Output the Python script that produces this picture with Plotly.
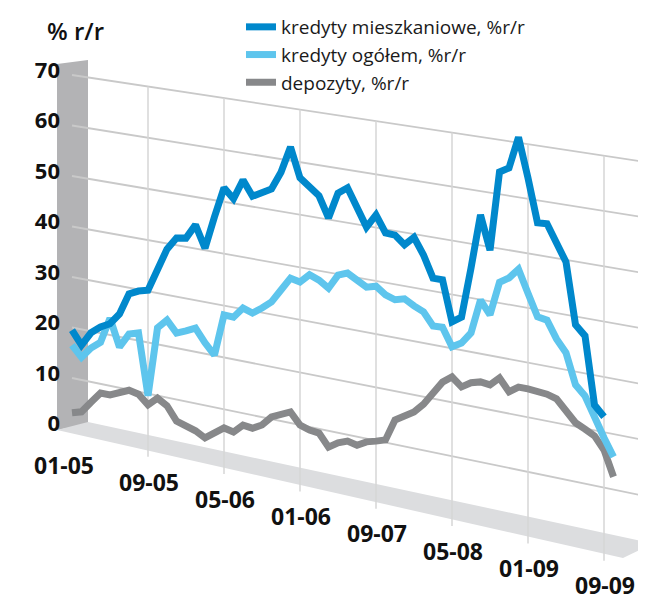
import plotly.graph_objects as go

# dane miesieczne od 01-05, % r/r
mieszkaniowe = [19.5, 16.9, 19.7, 21.2, 22.2, 24.5, 28.8, 29.7, 30.2, 34.3,
                38.9, 41.4, 41.7, 44.6, 40.4, 46.8, 52.7, 50.9, 54.8, 52.0,
                52.9, 54.0, 57.5, 62.6, 57.0, 55.8, 54.2, 50.3, 55.3, 56.6,
                53.3, 49.8, 52.4, 49.3, 49.2, 47.7, 49.4, 46.4, 42.4, 42.4,
                34.9, 36.1, 45.5, 55.6, 49.4, 64.1, 65.1, 71.0, 63.8, 55.9,
                56.0, 52.8, 49.6, 38.5, 36.8, 24.6, 22.8]
ogolem = [16.5, 14.5, 16.7, 18.2, 23.3, 18.0, 20.9, 21.5, 9.6, 23.2,
          25.1, 22.9, 23.7, 24.6, 22.1, 20.1, 28.2, 28.1, 30.2, 29.6,
          30.9, 32.4, 35.0, 37.6, 37.2, 38.9, 38.2, 37.0, 39.8, 40.5,
          39.5, 38.5, 39.0, 37.7, 37.1, 37.6, 36.6, 35.8, 33.5, 33.6,
          30.3, 31.3, 33.5, 39.9, 37.5, 43.8, 44.9, 46.8, 42.7, 38.7,
          38.4, 35.3, 33.1, 27.6, 25.9, 22.2, 19.0, 15.9]
depozyty = [3.1, 3.7, 6.0, 8.2, 8.2, 9.2, 9.9, 9.5, 7.8, 9.5,
            8.4, 5.8, 5.2, 4.7, 3.7, 5.0, 6.4, 6.0, 7.7, 7.5,
            8.5, 10.4, 11.2, 12.1, 10.0, 9.4, 9.2, 6.9, 8.1, 8.8,
            8.4, 9.4, 9.9, 10.5, 14.6, 15.7, 16.8, 18.6, 20.9, 23.4,
            24.7, 23.2, 24.3, 24.8, 24.6, 26.2, 24.0, 25.2, 25.2, 25.1,
            24.9, 24.4, 22.5, 20.7, 19.9, 19.0, 16.8, 12.3]

tick_months = [0, 8, 16, 24, 32, 40, 48, 56]
tick_labels = ["01-05", "09-05", "05-06", "01-06", "09-07", "05-08", "01-09", "09-09"]
y_ticks = [0, 10, 20, 30, 40, 50, 60, 70]

# strona ma margines 8 px, wiec wykres jest o tyle mniejszy
OFF = 8
W, H = 646 - OFF, 600 - OFF
LEFT = 48

# perspektywa tylnej sciany (piksele ekranu)
X0, DX = 72, 9.5          # miesiac 0 i szerokosc miesiaca
Y0, DY0 = 428.5, 2.0425   # linia zera na poczatku i jej opadanie na miesiac
S0, DS = 5.05, 0.0086     # piksele na jednostke i ich przyrost na miesiac


def wall_y(t, v):
    # wartosc v w miesiacu t -> skala lewej sciany (os y)
    ys = Y0 + DY0 * t - v * (S0 + DS * t)
    return (Y0 - ys) / S0


def px_t(x):
    return (x - X0) / DX


def px_y(y):
    return (Y0 - y) / S0


def paper_x(x):
    return (x - OFF - LEFT) / (W - LEFT)


def paper_y(y):
    return 1 - (y - OFF) / H


def path(points):
    return "M " + " L ".join(f"{px_t(x):.4f},{px_y(y):.4f}" for x, y in points) + " Z"


t_end = px_t(646)

fig = go.Figure()

# siatka pozioma
for v in y_ticks[1:]:
    fig.add_trace(go.Scatter(
        x=[0, t_end], y=[wall_y(0, v), wall_y(t_end, v)],
        mode='lines', line=dict(color='#C9C9C9', width=1.8),
        showlegend=False, hoverinfo='skip'))

# siatka pionowa
for t in tick_months[1:]:
    xp = X0 + DX * t
    fig.add_trace(go.Scatter(
        x=[t, t], y=[wall_y(t, 70), px_y(436 + 0.228 * (xp - 57))],
        mode='lines', line=dict(color='#D6D6D6', width=1.5),
        showlegend=False, hoverinfo='skip'))

series = [
    ("depozyty, %r/r", depozyty, '#87888A', 3),
    ("kredyty ogółem, %r/r", ogolem, '#5EC5ED', 2),
    ("kredyty mieszkaniowe, %r/r", mieszkaniowe, '#0088CC', 1),
]
for name, vals, color, rank in series:
    t = list(range(len(vals)))
    fig.add_trace(go.Scatter(
        x=t, y=[wall_y(ti, v) for ti, v in zip(t, vals)],
        mode='lines', name=name, legendrank=rank,
        line=dict(color=color, width=7),
        hoverinfo='skip'))

shapes = [
    dict(type='path', path=path([(57, 64), (88, 60), (88, 424), (57, 430)]),
         xref='x', yref='y', fillcolor='#B3B3B5', line=dict(width=0), layer='below'),
    dict(type='path', path=path([(57, 430), (88, 422), (646, 542), (646, 547), (623, 558)]),
         xref='x', yref='y', fillcolor='#DCDDDF', line=dict(width=0), layer='below'),
]

annotations = [dict(text="% r/r", xref='paper', yref='paper',
                    x=paper_x(75), y=paper_y(30),
                    xanchor='center', yanchor='middle',
                    showarrow=False, font=dict(family='Open Sans', size=24, color='#111', weight=600))]
for i, (t, lab) in enumerate(zip(tick_months, tick_labels)):
    annotations.append(dict(
        text=lab, x=t, y=px_y(465 + 17.1 * i), xref='x', yref='y',
        xanchor='center', yanchor='middle',
        xshift=-8 if t == 0 else 1, showarrow=False,
        font=dict(family='Open Sans', size=23, color='#111', weight='bold')))

fig.update_layout(
    width=W, height=H,
    margin=dict(l=LEFT, r=0, t=0, b=0),
    paper_bgcolor='white', plot_bgcolor='white',
    shapes=shapes, annotations=annotations,
    hovermode=False,
    legend=dict(x=paper_x(241), y=1.0, xanchor='left', yanchor='top',
                font=dict(family='Open Sans', size=19, color='#1a1a1a'),
                bgcolor='rgba(0,0,0,0)', itemwidth=30, tracegroupgap=0),
)
fig.update_xaxes(range=[px_t(OFF + LEFT), t_end], visible=False, fixedrange=True, automargin=False)
fig.update_yaxes(range=[px_y(600), px_y(OFF)], tickvals=y_ticks, showgrid=False,
                 zeroline=False, showline=False, ticks='', fixedrange=True, automargin=False,
                 ticklabelstandoff=-5, ticklabelshift=-5,
                 tickfont=dict(family='Open Sans', size=22, color='#111', weight='bold'))

fig.write_html("out.html")
